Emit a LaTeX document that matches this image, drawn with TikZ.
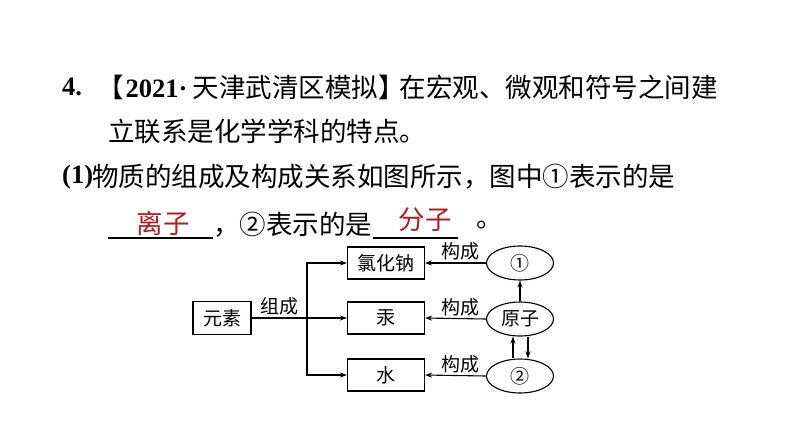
\documentclass[tikz,border=0pt]{standalone}
\usepackage{fontspec}
\setmainfont{Liberation Serif}
\newfontfamily\cjk{Noto Sans CJK SC}
\usetikzlibrary{shapes.geometric,arrows.meta}
\definecolor{answerred}{RGB}{175,28,30}
\newcommand\linefont{\cjk\fontsize{26.5}{30}\selectfont}
\newcommand\diafont{\cjk\fontsize{19}{22}\selectfont}
\newcommand\numfont{\rmfamily\bfseries}

\begin{document}
\begin{tikzpicture}[x=1pt,y=-1pt,
    txt/.style={anchor=west, inner sep=0pt, font=\linefont},
    box/.style={draw, line width=1.1pt, minimum width=77pt, minimum height=32pt, inner sep=0pt, font=\diafont},
    oval/.style={draw, ellipse, line width=1.1pt, minimum width=67pt, minimum height=34pt, inner sep=0pt, font=\diafont},
    arr/.style={-{Stealth[length=7pt,width=5pt]}, line width=1.1pt}]
    \fill[white] (0,0) rectangle (794,447);
    \useasboundingbox (0,0) rectangle (794,447);

    % question text
    \node[txt] (num) at (62,87) {\numfont 4.};
    \node[txt] (source) at (97,87) {【\hspace{2pt}{\numfont 2021·}\hspace{5pt}天津武清区模拟】};
    \node[txt, anchor=east] (line1) at (718,87) {在宏观、微观和符号之间建};
    \node[txt] (line2) at (108,131) {立联系是化学学科的特点。};
    \node[txt] (part) at (62,177) {\numfont (1)};
    \node[txt] (line3) at (92,177) {物质的组成及构成关系如图所示，图中①表示的是};
    \draw[line width=1.3pt] (108,238) -- (213,238);
    \node[font=\linefont, text=answerred, inner sep=0pt] (ans1) at (163,223) {离子};
    \node[txt] (line4) at (213,225) {，②表示的是};
    \draw[line width=1.3pt] (373,238) -- (458,238);
    \node[font=\linefont, text=answerred, inner sep=0pt] (ans2) at (425,220) {分子};
    \node[txt] (stop) at (476,225) {。};

    % diagram
    \node[box, minimum width=58pt, minimum height=33pt] (element) at (222,318) {元素};
    \node[box] (nacl) at (386,263) {氯化钠};
    \node[box] (mercury) at (386,318) {汞};
    \node[box] (water) at (386,375) {水};
    \node[oval] (ion) at (520,263) {①};
    \node[oval] (atom) at (520,319) {原子};
    \node[oval] (molecule) at (520,376) {②};
    \coordinate (fork) at (307,318);

    \draw[arr] (element.east) -- (mercury.west);
    \node[font=\diafont, inner sep=0pt] (compose) at (279,306) {组成};
    \draw[arr] (fork) |- (nacl.west);
    \draw[arr] (fork) |- (water.west);

    \foreach \src/\dst in {ion/nacl, atom/mercury, molecule/water}{
      \draw[arr] (\src.west) -- node[above=2pt, font=\diafont, inner sep=0pt, pos=0.42] {构成} (\dst.east);
    }

    \draw[arr] (atom.north) -- (ion.south);
    \draw[arr] ([xshift=-7pt]molecule.north) -- ([xshift=-7pt]atom.south);
    \draw[arr] ([xshift=8pt]atom.south) -- ([xshift=8pt]molecule.north);
\end{tikzpicture}
\end{document}
